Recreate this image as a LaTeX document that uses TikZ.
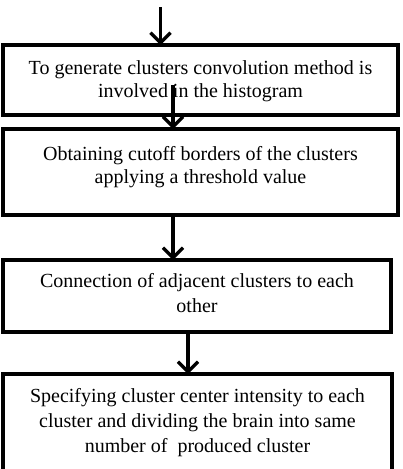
\documentclass[tikz,border=0pt]{standalone}
\usepackage{fontspec}
\setmainfont{Liberation Serif}
\usetikzlibrary{arrows.meta}
\begin{document}
\begin{tikzpicture}[x=1pt,y=1pt,
  boxstyle/.style={draw=black,line width=3.2pt,rectangle,inner sep=0pt,outer sep=0pt},
  txtA/.style={align=center,inner sep=0pt,font=\fontsize{20}{23}\selectfont},
  txtB/.style={align=center,inner sep=0pt,font=\fontsize{20}{25}\selectfont},
  arr/.style={line width=3.3pt,-{Straight Barb[length=10pt,width=20pt,line width=3.3pt]}}]
\clip (0,0) rectangle (403,-469);
\fill[white] (0,0) rectangle (403,-469);
% boxes
\node[boxstyle,minimum width=395pt,minimum height=70pt] (b1) at (200.5,-80) {};
\node[boxstyle,minimum width=395pt,minimum height=86pt] (b2) at (200.5,-172) {};
\node[boxstyle,minimum width=388pt,minimum height=72pt] (b3) at (197,-296) {};
\node[boxstyle,minimum width=389pt,minimum height=116pt] (b4) at (197.5,-432) {};
% texts (base anchor = baseline of last line)
\node[txtA,anchor=base] (t1) at (200.5,-97) {To generate clusters convolution method is\\involved in the histogram};
\node[txtA,anchor=base] (t2) at (200.5,-183) {Obtaining cutoff borders of the clusters\\applying a threshold value};
\node[txtB,anchor=base] (t3) at (197,-312) {Connection of adjacent clusters to each\\other};
\node[txtB,anchor=base] (t4) at (197.5,-452) {Specifying cluster center intensity to each\\cluster and dividing the brain into same\\number of~ produced cluster};
% connectors
\coordinate (s1) at (160.5,-7);
\coordinate (s2) at (173,-85);
\coordinate (x3) at (173,0);
\coordinate (x4) at (188,0);
\draw[arr] (s1) -- (b1.north -| s1);
\draw[arr] (s2) -- (b2.north -| s2);
\draw[arr] (b2.south -| x3) -- (b3.north -| x3);
\draw[arr] (b3.south -| x4) -- (b4.north -| x4);
\end{tikzpicture}
\end{document}
